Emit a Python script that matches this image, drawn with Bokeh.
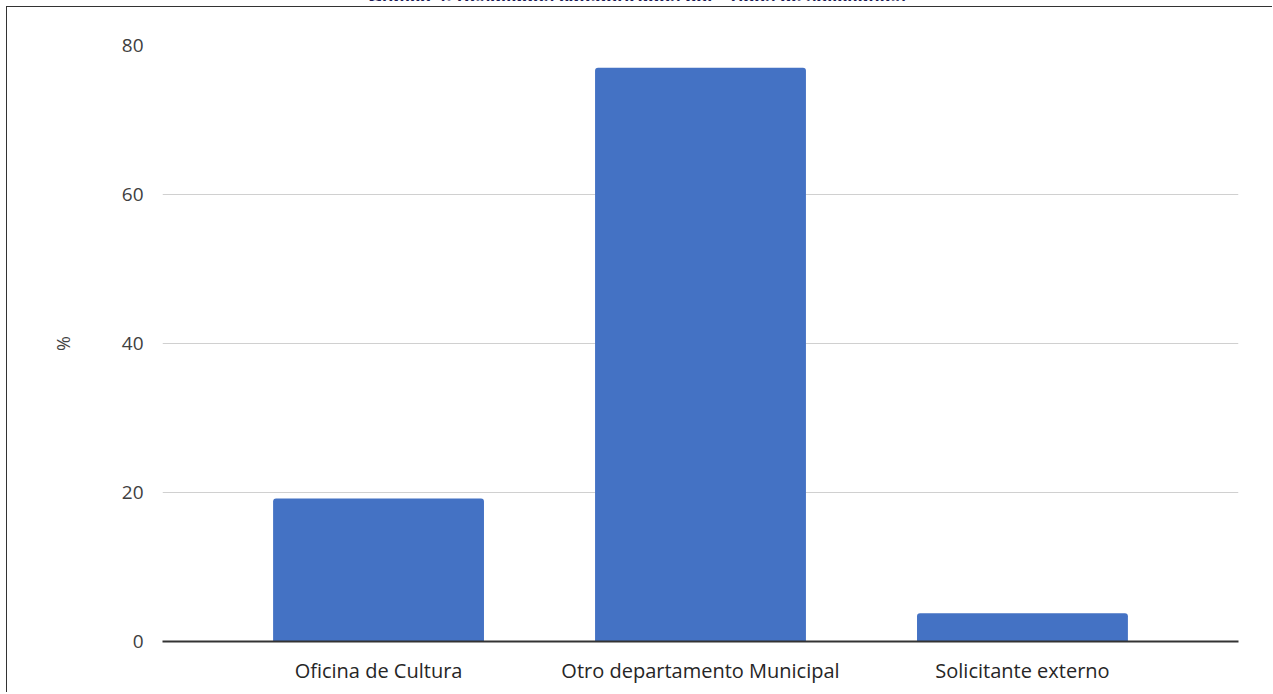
from bokeh.plotting import figure
from bokeh.models import Div, FactorRange, Range1d, FixedTicker
from bokeh.layouts import column
from bokeh.embed import file_html
from bokeh.resources import INLINE

categories = ["Oficina de Cultura", "Otro departamento Municipal", "Solicitante externo"]
values = [19.2, 77.0, 3.8]
y_ticks = [0, 20, 40, 60, 80]
title_text = 'Gráfico 4: Resultados categorizados por "Tipos de solicitantes"'
y_label = "%"

title_div = Div(
    text=('<div style="position: relative; top: -7px; white-space: nowrap; '
          'text-align: center; width: 1272px;">' + title_text + '</div>'),
    width=1272, height=9,
    styles={"margin-top": "-8px", "overflow": "hidden",
            "font-family": "Liberation Sans, Arial, sans-serif", "font-weight": "bold",
            "font-size": "18px", "color": "#1b1b55"},
)

p = figure(
    width=1266, height=686,
    x_range=FactorRange(*categories, range_padding=0.171, range_padding_units="absolute"),
    y_range=Range1d(0, 80),
    output_backend="svg", toolbar_location=None,
    min_border_left=155, min_border_right=35, min_border_top=38, min_border_bottom=52,
    styles={"border-top": "1px solid #333333", "border-left": "1px solid #333333",
            "margin-left": "6px"},
)
p.outline_line_color = None
p.background_fill_color = "white"
p.border_fill_color = "white"

p.vbar(x=categories, top=values, width=0.655, fill_color="#4472C4", line_color=None,
       border_radius=(3, 3, 0, 0))

p.ygrid.grid_line_color = "#d0d0d0"
p.ygrid.grid_line_width = 1
p.xgrid.grid_line_color = None

p.yaxis.ticker = FixedTicker(ticks=y_ticks)
p.yaxis.axis_line_color = None
p.yaxis.major_tick_line_color = None
p.yaxis.minor_tick_line_color = None
p.yaxis.major_label_text_font = "Open Sans"
p.yaxis.major_label_text_font_size = "19px"
p.yaxis.major_label_text_color = "#404040"
p.yaxis.major_label_standoff = 13
p.yaxis.axis_label = y_label
p.yaxis.axis_label_text_font = "Open Sans"
p.yaxis.axis_label_text_font_style = "normal"
p.yaxis.axis_label_text_font_size = "18px"
p.yaxis.axis_label_text_color = "#444444"
p.yaxis.axis_label_standoff = 44

p.xaxis.axis_line_color = "#333333"
p.xaxis.axis_line_width = 2
p.xaxis.major_tick_line_color = None
p.xaxis.minor_tick_line_color = None
p.xaxis.major_label_text_font = "Open Sans"
p.xaxis.major_label_text_font_size = "20px"
p.xaxis.major_label_text_color = "#262626"
p.xaxis.major_label_standoff = 9

layout = column(title_div, p, spacing=0)

open("out.html", "w").write(file_html(layout, INLINE))
